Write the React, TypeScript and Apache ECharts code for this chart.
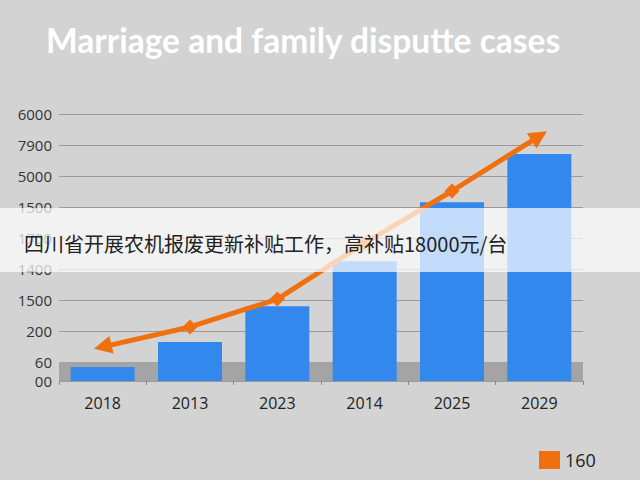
import React, { useEffect, useRef } from "react";
import * as echarts from "echarts";

const categories = ["2018", "2013", "2023", "2014", "2025", "2029"];
const barValues = [45, 126, 241, 386, 576, 731];
const lineValues = [110, 174, 264, 444, 612, 789];
const tickValues = [0, 60, 160, 260, 360, 460, 560, 660, 760, 860];
const tickLabels = ["00", "60", "200", "1500", "1400", "1700", "1500", "5000", "7900", "6000"];
const floorRange = [0, 60];
const titleText = "Marriage and family disputte cases";
const legendName = "160";
const bannerText = "四川省开展农机报废更新补贴工作，高补贴18000元/台";

const ORANGE = "#F0700F";
const BLUE = "#3388EE";

export default function App() {
  const ref = useRef<HTMLDivElement>(null);
  useEffect(() => {
    if (!ref.current) return;
    const chart = echarts.init(ref.current, null, { renderer: "svg" });
    const n = lineValues.length;
    chart.setOption({
      animation: false,
      backgroundColor: "#d3d3d3",
      title: {
        text: titleText,
        left: 41,
        top: 18,
        textStyle: { color: "#ffffff", fontSize: 33.5, fontWeight: "bold", fontFamily: "Lato" },
      },
      legend: {
        left: 534,
        top: 446,
        itemWidth: 21,
        itemHeight: 18,
        itemGap: 8,
        data: [{ name: legendName, icon: "rect" }],
        textStyle: { color: "#222", fontSize: 18, fontFamily: "Open Sans" },
      },
      grid: { left: 59, right: 57, top: 114, bottom: 99 },
      xAxis: {
        type: "category",
        data: categories,
        axisLine: { show: false },
        axisTick: { show: true, length: 4, lineStyle: { color: "#888" } },
        axisLabel: { color: "#222", fontSize: 16, margin: 14, fontWeight: 500, fontFamily: "Open Sans" },
      },
      yAxis: {
        type: "value",
        min: 0,
        max: 860,
        axisLine: { show: false },
        axisTick: { show: false, customValues: tickValues },
        axisLabel: {
          customValues: tickValues,
          color: "#333",
          fontSize: 15,
          margin: 7,
          fontFamily: "Open Sans",
          formatter: (v: number) => {
            const i = tickValues.indexOf(Math.round(v));
            return i >= 0 ? tickLabels[i] : "";
          },
        },
        splitLine: { show: true, lineStyle: { color: "#9a9a9a", width: 1.2 } },
      },
      series: [
        {
          type: "bar",
          name: "bars",
          data: barValues,
          barWidth: 64,
          itemStyle: { color: BLUE },
          z: 3,
          markArea: {
            silent: true,
            itemStyle: { color: "#a4a4a4" },
            data: [[{ yAxis: floorRange[0] }, { yAxis: floorRange[1] }]],
          },
        },
        {
          type: "line",
          name: legendName,
          data: lineValues.map((v, i) => {
            if (i === 0) return { value: v, symbol: "triangle", symbolRotate: 103, symbolSize: 18 };
            if (i === n - 1) return { value: v, symbol: "triangle", symbolRotate: -58, symbolSize: 18 };
            return { value: v };
          }),
          symbol: "diamond",
          symbolSize: 15,
          lineStyle: { color: ORANGE, width: 5 },
          itemStyle: { color: ORANGE },
          z: 4,
        },
      ],
      graphic: [
        {
          type: "rect",
          z: 100,
          shape: { x: 0, y: 208, width: 640, height: 64 },
          style: { fill: "rgba(255,255,255,0.7)" },
        },
        {
          type: "text",
          z: 101,
          x: 24,
          y: 243,
          style: {
            text: bannerText,
            fill: "#222",
            fontSize: 20,
            fontFamily: "Noto Sans CJK SC",
            verticalAlign: "middle",
          },
        },
      ],
    });
    return () => chart.dispose();
  }, []);
  return <div ref={ref} style={{ width: 640, height: 480, position: "absolute", left: 0, top: 0 }} />;
}
